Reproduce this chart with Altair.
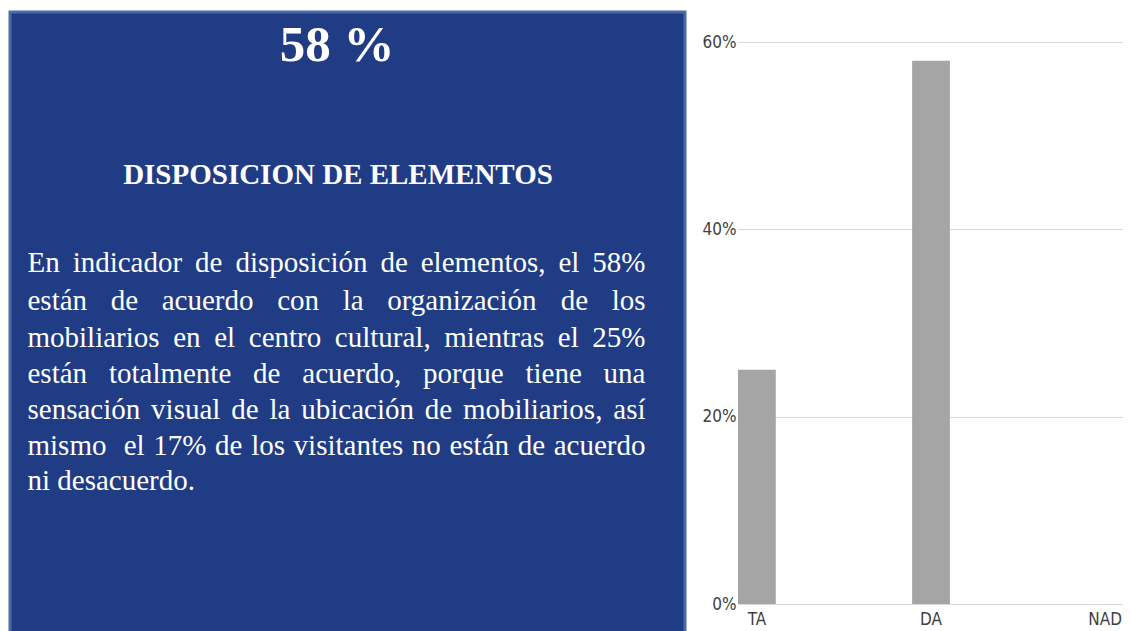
import altair as alt
import pandas as pd

# ---- data ----
categories = ["TA", "DA", "NAD"]
values = [0.25, 0.58, 0.0]
y_ticks = [0, 0.2, 0.4, 0.6]

headline = "58 %"
heading = "DISPOSICION DE ELEMENTOS"
paragraph_lines = [
    "En indicador de disposición de elementos, el 58%",
    "están de acuerdo con la organización de los",
    "mobiliarios en el centro cultural, mientras el 25%",
    "están totalmente de acuerdo, porque tiene una",
    "sensación visual de la ubicación de mobiliarios, así",
    "mismo  el 17% de los visitantes no están de acuerdo",
    "ni desacuerdo.",
]

# ---- layout helpers (Times / Liberation Serif advance widths, per 1000 em) ----
ADV = {
    "a": 444, "b": 500, "c": 444, "d": 500, "e": 444, "f": 333, "g": 500, "h": 500,
    "i": 278, "j": 278, "k": 500, "l": 278, "m": 778, "n": 500, "o": 500, "p": 500,
    "q": 500, "r": 333, "s": 389, "t": 278, "u": 500, "v": 500, "w": 722, "x": 500,
    "y": 500, "z": 444, "á": 444, "é": 444, "í": 278, "ó": 500, "ú": 500, "ñ": 500,
    "E": 611, " ": 250, ",": 250, ".": 250, "%": 833,
}
for d in "0123456789":
    ADV[d] = 500

FS = 29
LEFT = -710.5      # relative to plot origin
TEXT_W = 618.0
BASELINES = [230.3, 267.5, 304.5, 341.0, 377.3, 412.7, 448.0]


def wwidth(w):
    return sum(ADV.get(ch, 500) for ch in w) * FS / 1000.0


rows = []
for li, line in enumerate(paragraph_lines):
    words = line.split(" ")
    widths = [wwidth(w) for w in words]
    last = li == len(paragraph_lines) - 1
    gaps = len(words) - 1
    gap = ADV[" "] * FS / 1000.0 if (last or gaps == 0) else (TEXT_W - sum(widths)) / gaps
    x = LEFT
    for w, wd in zip(words, widths):
        if w:
            rows.append({"word": w, "px": x, "py": BASELINES[li]})
        x += wd + gap
words_df = pd.DataFrame(rows)

bar_df = pd.DataFrame({"cat": categories, "val": values})
one = pd.DataFrame({"k": [0]})

label_font = "DejaVu Sans Condensed, Liberation Sans, sans-serif"

box = alt.Chart(one).mark_rect(
    fill="#1F3C84", stroke="#4A6BA5", strokeWidth=3
).encode(
    x=alt.value(-728), x2=alt.value(-53), y=alt.value(-30), y2=alt.value(610)
)

title_txt = alt.Chart(one).mark_text(
    align="center", baseline="alphabetic", font="Liberation Serif",
    fontSize=51, fontWeight="bold", color="white"
).encode(x=alt.value(-401), y=alt.value(19), text=alt.value(headline))

heading_txt = alt.Chart(one).mark_text(
    align="center", baseline="alphabetic", font="Liberation Serif",
    fontSize=29, fontWeight="bold", color="white"
).encode(x=alt.value(-400), y=alt.value(142), text=alt.value(heading))

para = alt.Chart(words_df).mark_text(
    align="left", baseline="alphabetic", font="Liberation Serif",
    fontSize=FS, color="white"
).encode(
    x=alt.X("px:Q", scale=None, axis=None),
    y=alt.Y("py:Q", scale=None, axis=None),
    text="word:N",
)

bars = alt.Chart(bar_df).mark_bar(color="#A5A5A5").encode(
    x=alt.X(
        "cat:N", sort=categories,
        scale=alt.Scale(paddingInner=0.783, paddingOuter=0, range=[0, 386]),
        axis=alt.Axis(
            title=None, labelAngle=0, ticks=False, domain=False,
            labelFont=label_font, labelFontSize=17, labelColor="#404040",
            labelPadding=7,
        ),
    ),
    y=alt.Y(
        "val:Q", scale=alt.Scale(domain=[0, 0.6], nice=False),
        axis=alt.Axis(
            values=y_ticks, format=".0%", title=None, grid=True,
            gridColor="#D9D9D9", gridWidth=1, domain=False, ticks=False,
            labelFont=label_font, labelFontSize=17, labelColor="#404040",
            labelPadding=2,
        ),
    ),
)

chart = (
    alt.layer(box, title_txt, heading_txt, para, bars)
    .resolve_scale(x="independent", y="independent")
    .properties(
        width=385, height=562,
        autosize=alt.AutoSizeParams(type="none"),
        padding={"left": 730, "top": 34, "right": 0, "bottom": 30},
    )
    .configure_view(stroke=None)
)

chart.save("out.html", embed_options={"renderer": "svg", "actions": False})
